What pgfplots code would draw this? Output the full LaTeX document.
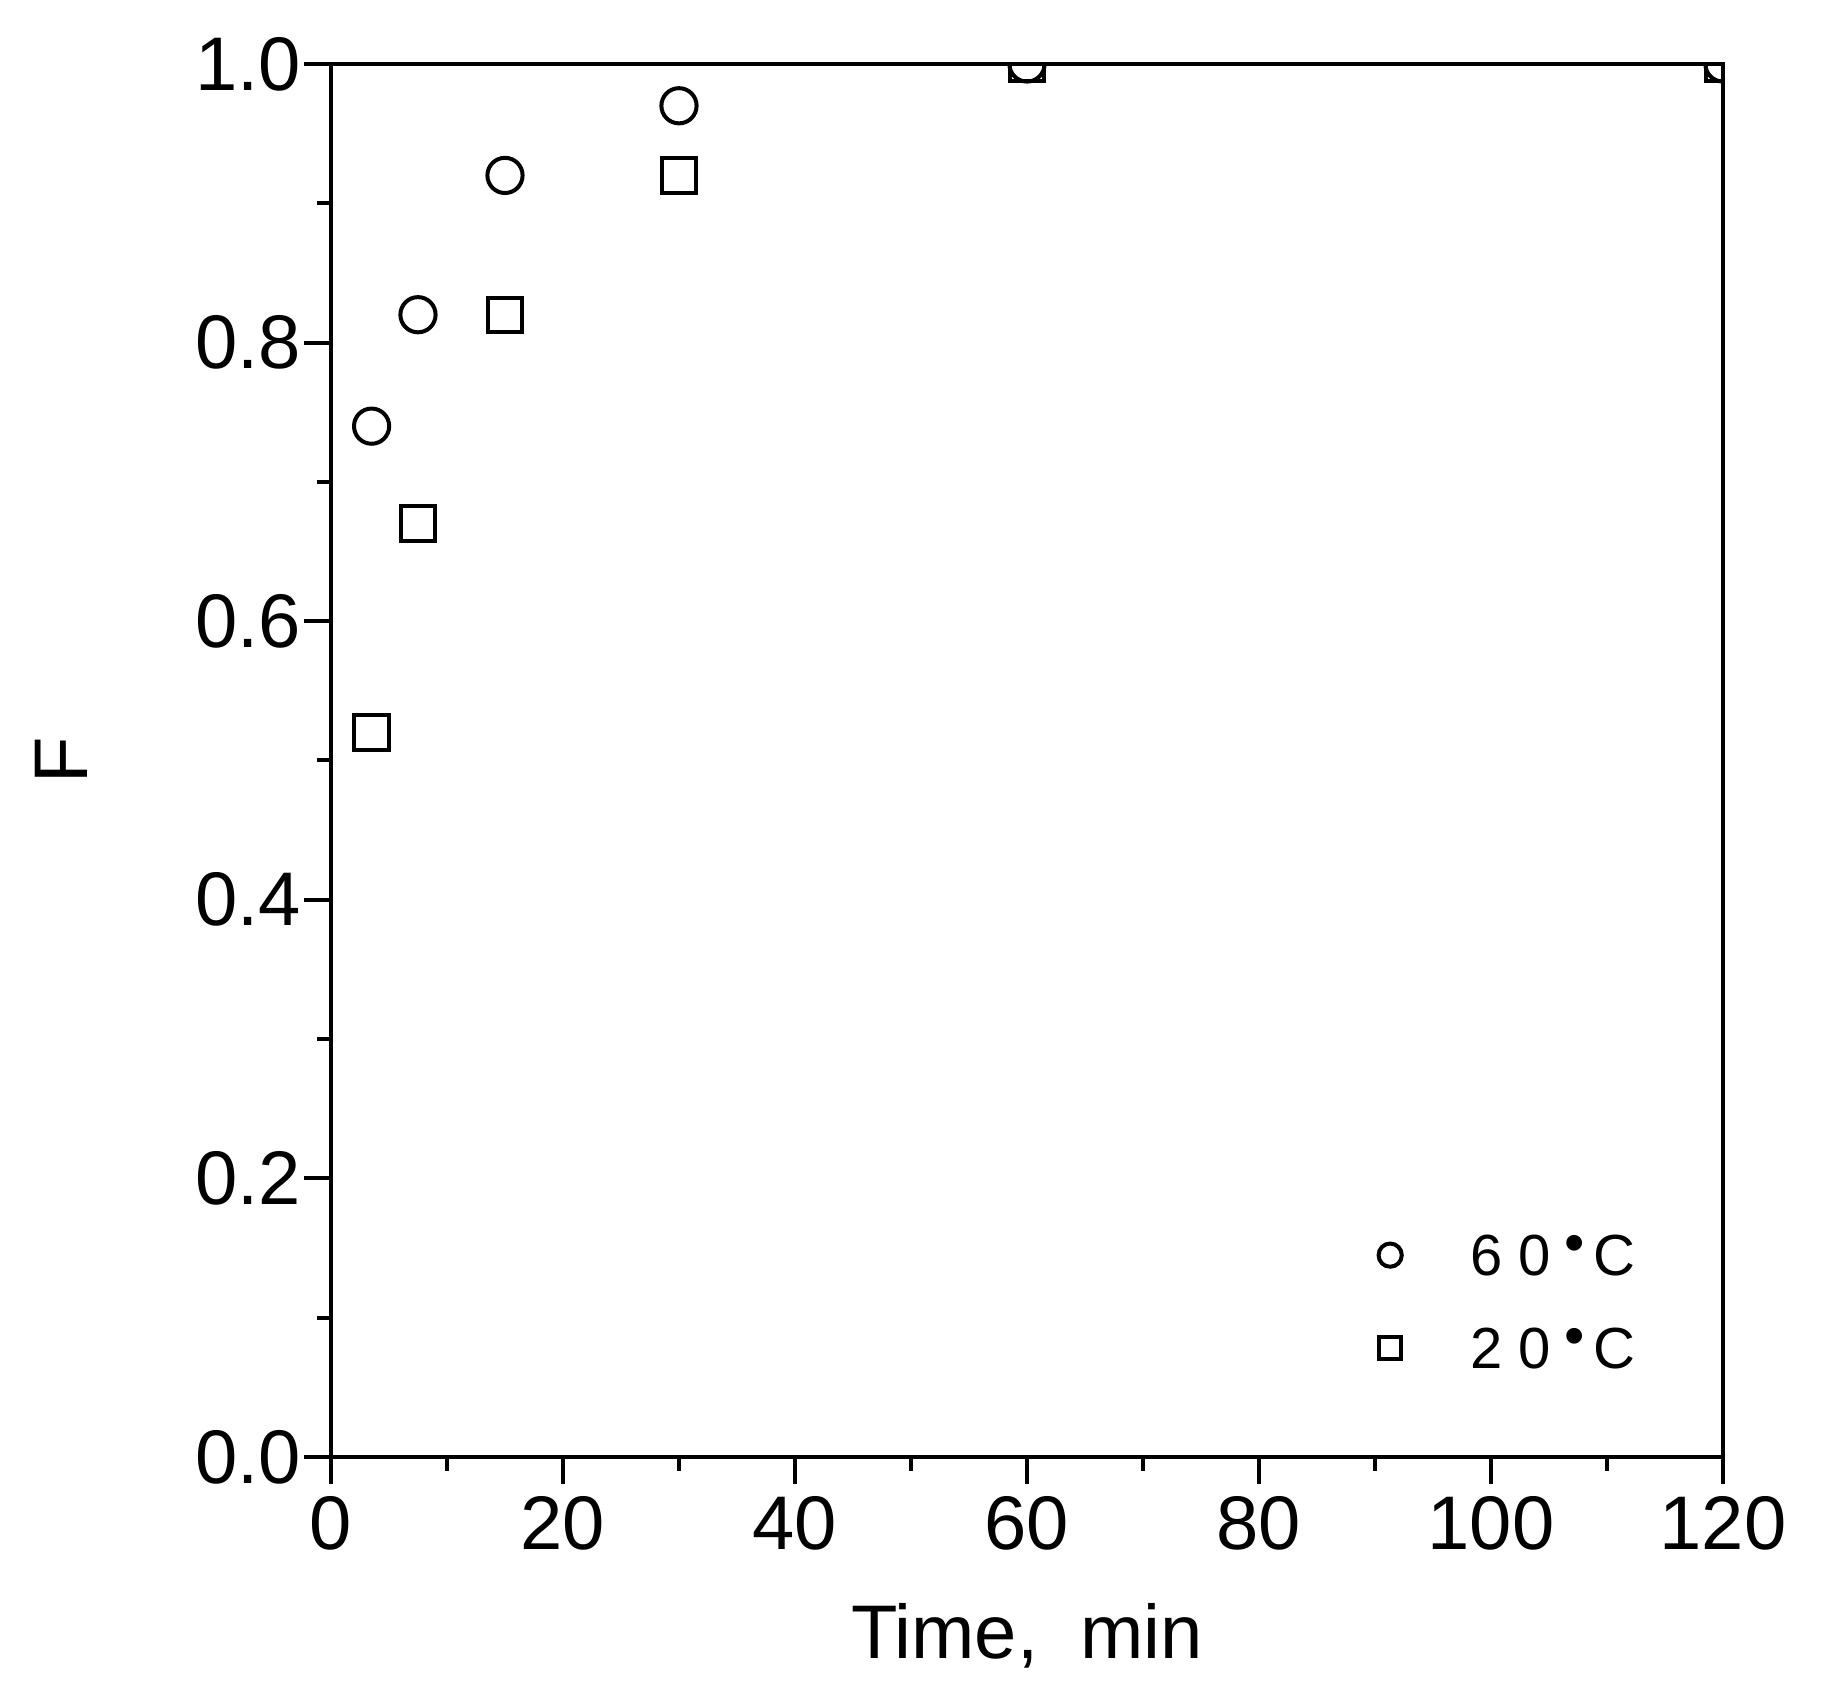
\documentclass[border=0pt]{standalone}
\usepackage{fontspec}
\setmainfont{Liberation Sans}
\usepackage{pgfplots}
\pgfplotsset{compat=1.18}
\newcommand{\degdot}{\kern3.6pt\raisebox{3.4pt}{\textbullet}\kern2.0pt}
\newcommand{\lbl}[2]{#1\kern3.8pt#2\degdot C}
\begin{document}
\fontsize{19pt}{23pt}\selectfont
\begin{tikzpicture}
\begin{axis}[
  at={(0,0)}, anchor=south west,
  scale only axis, width=348pt, height=348.25pt,
  xmin=0, xmax=120, ymin=0, ymax=1,
  axis line style={line width=1pt},
  xtick={0,20,...,120}, minor x tick num=1,
  ytick={0,0.2,0.4,0.6,0.8,1.0}, minor y tick num=1,
  yticklabels={0.0,0.2,0.4,0.6,0.8,1.0},
  xtick pos=left, ytick pos=left,
  tick align=outside,
  major tick length=6.75pt, minor tick length=3.5pt,
  every tick/.style={black, line width=1pt},
  /pgf/number format/assume math mode=true,
  ticklabel style={font=\fontsize{19pt}{23pt}\selectfont},
  yticklabel style={inner sep=0.5pt},
  xticklabel style={inner sep=2.8pt},
  xlabel={Time,\ \ min},
  ylabel={F},
  label style={font=\fontsize{19pt}{23pt}\selectfont},
  xlabel style={at={(axis description cs:0.5,0)}, anchor=base, yshift=-50.5pt},
  ylabel style={at={(axis description cs:-0.1746,0.5)}, anchor=base},
  clip marker paths=true,
  legend style={draw=none, fill=none, inner sep=0pt,
    at={(axis description cs:0.752,0.1116)}, anchor=west,
    font=\fontsize{14.5pt}{17pt}\selectfont,
    row sep=12.8pt,
    nodes={inner sep=0pt, text height=10.4pt, text depth=0pt},
    /tikz/every odd column/.append style={column sep=17.25pt}},
  legend cell align=left,
]
\addplot[only marks, mark=o, mark size=4.4pt, line width=1pt, black,
  legend image post style={mark size=2.9pt}]
  coordinates {(3.5,0.740) (7.5,0.820) (15,0.920) (30,0.970) (60,1.0) (120,1.0)};
\addlegendentry{\lbl{6}{0}}
\addplot[only marks, mark=square, mark size=4.3pt, line width=1pt, black,
  legend image post style={mark size=2.8pt}]
  coordinates {(3.5,0.520) (7.5,0.670) (15,0.820) (30,0.920) (60,1.0) (120,1.0)};
\addlegendentry{\lbl{2}{0}}
\end{axis}
\pgfresetboundingbox
\useasboundingbox (-82.75pt,-58.5pt) rectangle (372.75pt,364.25pt);
\end{tikzpicture}
\end{document}
